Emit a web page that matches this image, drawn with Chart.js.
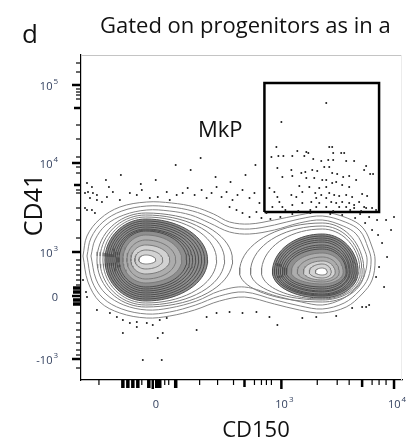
<!DOCTYPE html>
<html>
<head>
<meta charset="utf-8">
<script src="https://cdn.jsdelivr.net/npm/chart.js@4.4.1/dist/chart.umd.min.js"></script>
<style>
  body { margin: 0; background: #fff; }
  canvas { display: block; }
</style>
</head>
<body>
<canvas id="plot" width="406" height="442"></canvas>
<script>
// axes are in display channels of the biexponential scale (x 0..322, y 0..325)
const xTickLabels = ['0', '10^3', '10^4'];
const xTickValues = [72, 201, 314];
const xMidTicks = [164, 282];
const xMinorTicks = [18, 61, 84, 88, 119, 137, 153, 174, 181, 186, 191, 237, 257, 269, 292, 299, 306];
const xHeavyTicks = [42, 47, 52, 57, 68, 76, 79, 95];

const yTickLabels = ['10^5', '10^4', '10^3', '0', '-10^3'];
const yTickValues = [295, 217, 128, 84, 21];
const yMidTicks = [272, 195];
const yMinorTicks = [317, 308, 291, 288, 285, 281, 255, 241, 223, 213, 207, 190, 187, 172, 160, 142,
  120, 115, 110, 105, 100, 95, 67, 57, 50, 43, 37, 30, 25, 12];
const yHeavyTicks = [92, 88, 80, 76];

// MkP gate (CD150 x CD41)
const gateX = [184, 299];
const gateY = [168, 297];

// outer contours enclosing both populations
const outerContour1 = [[2,124],[6,144],[19,161],[39,173],[66,178],[91,177],[114,173],[133,166],[149,158],[169,156],
  [194,160],[219,165],[242,168],[267,162],[283,152],[292,133],[295,120],[292,100],[282,86],[266,73],[242,67],
  [219,70],[194,76],[164,83],[139,79],[114,70],[89,64],[66,62],[39,67],[19,78],[7,98]];
const outerContour2 = [[6,124],[10,142],[22,158],[41,169],[66,174],[90,173],[112,169],[131,162],[149,153],[169,151],
  [194,155],[219,161],[242,164],[265,158],[280,149],[288,132],[291,120],[288,102],[279,89],[264,77],[242,71],
  [220,74],[195,80],[164,88],[139,84],[115,75],[89,68],[66,66],[41,71],[22,82],[11,99]];
const outerContour3 = [[10,124],[14,140],[25,155],[43,165],[66,170],[89,169],[110,165],[129,157],[149,148],[169,146],
  [194,150],[219,157],[242,160],[263,154],[276,146],[284,131],[287,120],[284,104],[276,92],[262,81],[242,75],
  [221,78],[196,84],[164,93],[139,89],[116,79],[89,72],[66,70],[43,75],[25,86],[15,101]];

// CD150- population (left) contour rings: centre and half-widths left/right/top/bottom
const leftCenter = [65, 120];
const leftRxL = [49, 46, 43, 41, 39, 37, 35, 33, 31, 29, 27, 23, 19, 15, 11, 7];
const leftRxR = [87, 79, 71, 62, 59, 56, 53, 50, 47, 44, 41, 36, 30, 24, 17, 10];
const leftRyT = [47, 45, 43, 41, 39, 37, 35, 33, 31, 30, 29, 25, 20, 15, 10, 5];
const leftRyB = [47, 45, 43, 41, 39, 37, 35, 33, 31, 29, 27, 23, 19, 14, 9, 4];

// CD150+ population (right)
const rightCenter = [242, 108];
const rightRxL = [83, 72, 61, 50, 48, 46, 44, 42, 40, 38, 36, 31, 25, 19, 13, 7];
const rightRxR = [42, 40, 38, 36, 34, 32, 30, 28, 27, 25, 24, 21, 17, 13, 9, 5];
const rightRyT = [49, 46, 43, 38, 36, 34, 32, 30, 27, 25, 23, 19, 15, 11, 8, 4];
const rightRyB = [30, 28, 27, 26, 24, 23, 22, 20, 19, 17, 15, 12, 10, 8, 6, 3];

// single events
const mkpEvents = [[246,277],[201,258],[196,233],[217,229],[226,228],[249,233],[252,233],[253,227],[261,227],[264,227],
  [191,223],[198,224],[203,224],[212,224],[224,224],[233,221],[241,219],[248,220],[253,220],[266,219],
  [274,219],[286,214],[290,206],[293,206],[284,210],[197,212],[211,210],[221,207],[225,208],[232,210],
  [237,209],[244,213],[249,213],[252,207],[257,206],[263,203],[269,204],[276,200],[212,204],[202,203],
  [226,202],[234,202],[242,200],[246,200],[252,197],[256,198],[262,195],[269,193],[246,193],[239,192],
  [229,193],[219,194],[222,188],[235,187],[241,185],[249,187],[254,185],[259,184],[266,185],[272,183],
  [282,186],[287,184],[197,183],[199,178],[211,185],[216,183],[189,192],[194,188],[236,182],[246,182],
  [251,178],[256,177],[262,178],[269,177],[274,175],[279,178],[284,173],[202,173],[212,175],[222,177],
  [231,178],[239,177],[192,173],[236,173],[246,173],[259,173],[266,173],[274,172],[286,172],[292,172],
  [228,227],[205,170],[218,169],[230,170],[253,169],[270,170],[281,169],[296,170]];
const otherEvents = [[4,187],[9,182],[16,185],[21,178],[26,183],[32,188],[39,180],[49,187],[56,185],[61,190],
  [69,182],[77,183],[86,188],[89,180],[96,185],[102,187],[107,192],[114,185],[121,190],[126,182],
  [131,187],[136,193],[141,183],[146,188],[152,180],[157,185],[162,190],[169,182],[174,187],[179,177],
  [149,173],[156,170],[162,167],[169,163],[176,168],[181,162],[186,167],[6,197],[11,193],[7,188],
  [12,187],[16,180],[4,172],[11,170],[14,167],[40,205],[75,200],[110,210],[150,198],[135,203],
  [60,196],[165,205],[25,200],[95,215],[120,222],[175,215],[28,193],[6,170],
  [190,161],[200,163],[212,166],[262,165],[275,162],[285,157],[292,150],[298,145],[280,166],[230,167],
  [250,166],[297,160],[289,163],
  [306,160],[311,150],[302,137],[307,123],[299,113],[296,103],[304,93],[314,163],
  [16,70],[29,67],[36,63],[42,60],[49,57],[56,58],[66,57],[72,55],[79,60],[86,62],
  [42,47],[56,53],[77,42],[82,47],[116,50],[126,63],[136,67],[149,68],[162,67],[176,68],
  [189,63],[197,55],[222,62],[236,63],[256,64],[272,72],[282,73],[289,75],[286,73],[62,20],
  [81,20],[6,83],[5,88],[2,100]];

const toXY = p => ({ x: p[0], y: p[1] });

function ring(c, rxL, rxR, ryT, ryB) {
  const pts = [];
  for (let k = 0; k <= 72; k++) {
    const t = k / 72 * 2 * Math.PI;
    const cs = Math.cos(t), sn = Math.sin(t);
    pts.push({ x: c[0] + cs * (cs >= 0 ? rxR : rxL), y: c[1] + sn * (sn >= 0 ? ryT : ryB) });
  }
  return pts;
}

const datasets = [];
let order = 200;
function addLine(points, color, width, fillColor, tension) {
  datasets.push({
    data: points, showLine: true, pointRadius: 0, borderColor: color, borderWidth: width,
    fill: fillColor ? 'shape' : false, backgroundColor: fillColor || 'rgba(0,0,0,0)',
    tension: tension || 0, order: order--
  });
}

[outerContour1, outerContour2, outerContour3].forEach(c => {
  const pts = c.map(toXY);
  pts.push(pts[0]);
  addLine(pts, '#858585', 1, null, 0.35);
});

const bandFill = { 3: '#8e8e8e', 11: '#adadad', 13: '#d2d2d2', 15: '#ffffff' };
function lobe(c, rxL, rxR, ryT, ryB) {
  for (let i = 0; i < rxL.length; i++) {
    const col = i < 3 ? '#7c7c7c' : (i < 11 ? '#4c4c4c' : '#7a7a7a');
    addLine(ring(c, rxL[i], rxR[i], ryT[i], ryB[i]), col, 1, bandFill[i]);
  }
}
lobe(leftCenter, leftRxL, leftRxR, leftRyT, leftRyB);
lobe(rightCenter, rightRxL, rightRxR, rightRyT, rightRyB);

datasets.push({
  data: [[gateX[0], gateY[0]], [gateX[0], gateY[1]], [gateX[1], gateY[1]], [gateX[1], gateY[0]], [gateX[0], gateY[0]]].map(toXY),
  showLine: true, pointRadius: 0, borderColor: '#000', borderWidth: 2.5, fill: false, order: 1
});
datasets.push({
  data: mkpEvents.concat(otherEvents).map(toXY),
  pointRadius: 1, backgroundColor: '#1c1c1c', borderWidth: 0, order: 0
});

function drawPow(ctx, label, x, y, align) {
  const parts = label.split('^');
  ctx.font = '11px "Open Sans"';
  const wb = ctx.measureText(parts[0]).width;
  let we = 0;
  if (parts[1]) { ctx.font = '8px "Open Sans"'; we = ctx.measureText(parts[1]).width + 1; }
  const x0 = align === 'right' ? x - wb - we : x - (wb + we) / 2;
  ctx.textAlign = 'left';
  ctx.textBaseline = 'middle';
  ctx.font = '11px "Open Sans"';
  ctx.fillText(parts[0], x0, y);
  if (parts[1]) {
    ctx.font = '8px "Open Sans"';
    ctx.fillText(parts[1], x0 + wb + 1, y - 5);
  }
}

const decorations = {
  id: 'decorations',
  afterDraw(chart) {
    const { ctx, chartArea: a, scales: { x, y } } = chart;
    ctx.save();
    ctx.strokeStyle = '#c4c4c4';
    ctx.lineWidth = 1;
    ctx.beginPath(); ctx.moveTo(a.left, a.top + 0.5); ctx.lineTo(a.right, a.top + 0.5); ctx.stroke();
    ctx.strokeStyle = '#ececec';
    ctx.beginPath(); ctx.moveTo(a.right - 0.5, a.top); ctx.lineTo(a.right - 0.5, a.bottom); ctx.stroke();

    ctx.strokeStyle = '#000';
    const tx = (v, len, w) => {
      const p = x.getPixelForValue(v);
      ctx.lineWidth = w; ctx.beginPath(); ctx.moveTo(p, a.bottom); ctx.lineTo(p, a.bottom + len); ctx.stroke();
    };
    const ty = (v, len, w) => {
      const p = y.getPixelForValue(v);
      ctx.lineWidth = w; ctx.beginPath(); ctx.moveTo(a.left, p); ctx.lineTo(a.left - len, p); ctx.stroke();
    };
    xMinorTicks.forEach(v => tx(v, 5, 1.2));
    xMidTicks.forEach(v => tx(v, 7, 2.5));
    xHeavyTicks.forEach(v => tx(v, 8, 3.5));
    xTickValues.forEach(v => tx(v, 9, 2.5));
    yMinorTicks.forEach(v => ty(v, 5, 1.2));
    yMidTicks.forEach(v => ty(v, 7, 2.5));
    yHeavyTicks.forEach(v => ty(v, 8, 3.5));
    yTickValues.forEach(v => ty(v, 9, 2.5));

    ctx.fillStyle = '#33415f';
    xTickLabels.forEach((l, i) => drawPow(ctx, l, x.getPixelForValue(xTickValues[i]) + 3, a.bottom + 25, 'center'));
    yTickLabels.forEach((l, i) => drawPow(ctx, l, 58, y.getPixelForValue(yTickValues[i]) + 2, 'right'));

    ctx.fillStyle = '#111';
    ctx.textBaseline = 'alphabetic';
    ctx.textAlign = 'left';
    ctx.font = '22px "Open Sans"';
    ctx.fillText('Gated on progenitors as in a', 100, 33);
    ctx.font = '26px "Open Sans"';
    ctx.fillText('d', 22, 43);
    ctx.font = '22px "Open Sans"';
    ctx.fillText('MkP', 198, 137);
    ctx.textAlign = 'center';
    ctx.fillText('CD150', 256, 437);
    ctx.translate(42, 205);
    ctx.rotate(-Math.PI / 2);
    ctx.font = '25px "Open Sans"';
    ctx.fillText('CD41', 0, 0);
    ctx.restore();
  }
};

new Chart(document.getElementById('plot'), {
  type: 'scatter',
  data: { datasets },
  options: {
    responsive: false,
    animation: false,
    devicePixelRatio: 1,
    layout: { padding: { top: 55, right: 3, left: 0, bottom: 0 } },
    plugins: { legend: { display: false }, tooltip: { enabled: false } },
    scales: {
      x: {
        type: 'linear', min: 0, max: 322,
        grid: { display: false }, ticks: { display: false },
        border: { display: true, color: '#000', width: 1.2 },
        afterFit(s) { s.height = 62; }
      },
      y: {
        type: 'linear', min: 0, max: 325,
        grid: { display: false }, ticks: { display: false },
        border: { display: true, color: '#000', width: 1.2 },
        afterFit(s) { s.width = 81; }
      }
    }
  },
  plugins: [decorations]
});
</script>
</body>
</html>
